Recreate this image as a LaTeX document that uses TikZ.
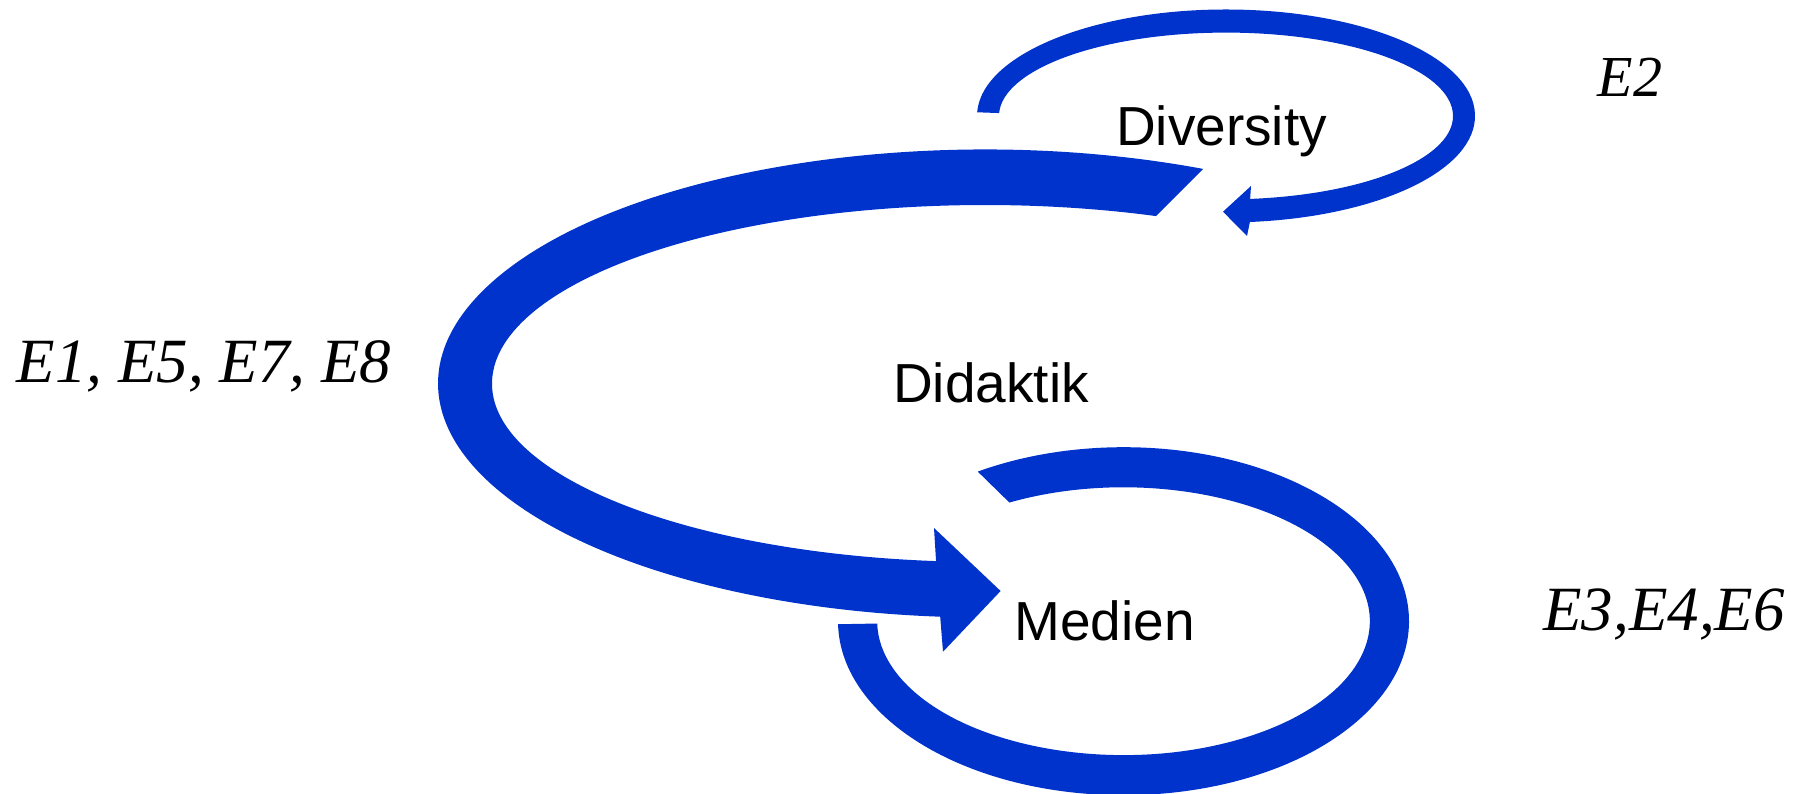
\documentclass[tikz,border=0pt]{standalone}
\usepackage{fontspec}
\setmainfont{Liberation Serif}
\setsansfont{Liberation Sans}
\usetikzlibrary{calc}
\definecolor{arrowblue}{RGB}{0,51,204}
\begin{document}
\begin{tikzpicture}[x=1pt,y=1pt,
  band/.style={fill=arrowblue, draw=none},
  lbl/.style={font=\sffamily\fontsize{55}{60}\selectfont, inner sep=0pt, anchor=base},
  elbl/.style={font=\itshape\fontsize{63}{70}\selectfont, inner sep=0pt, anchor=base}]
\useasboundingbox (0,0) rectangle (1806,793);
% Diversity loop
\fill[band] ($(1226,677)+(178:249 and 106.5)$)
  arc[start angle=178, end angle=-84.5, x radius=249, y radius=106.5]
  -- (1247,557) -- (1223,581.3) -- (1251,607)
  -- ($(1226,677)+(-83.9:227 and 83.4)$)
  arc[start angle=-83.9, end angle=178, x radius=227, y radius=83.4] -- cycle;
% Didaktik big arrow
\fill[band] ($(985,409.5)+(66.5:547 and 234)$)
  arc[start angle=66.5, end angle=265.3, x radius=547, y radius=234]
  -- (943,141.3) -- (1000.6,202) -- (934,265)
  -- ($(985,409.5)+(264.3:493 and 178.5)$)
  arc[start angle=264.3, end angle=69.7, x radius=493, y radius=178.5] -- cycle;
% Medien loop
\fill[band] ($(1123.5,171.8)+(181:285.5 and 174)$)
  arc[start angle=181, end angle=480.7, x radius=285.5, y radius=174]
  -- ($(1123.5,171.8)+(477.6:246.3 and 133.9)$)
  arc[start angle=477.6, end angle=181, x radius=246.3, y radius=133.9] -- cycle;
% Labels
\node[lbl] (div) at (1221.5,647) {Diversity};
\node[lbl] (did) at (991,390) {Didaktik};
\node[lbl] (med) at (1104.5,152.3) {Medien};
\node[elbl] (e1) at (204,410) {E1, E5, E7, E8};
\node[elbl, font=\itshape\fontsize{58}{64}\selectfont] (e2) at (1630,696) {E2};
\node[elbl] (e3) at (1664,163) {E3,E4,E6};
\end{tikzpicture}
\end{document}
